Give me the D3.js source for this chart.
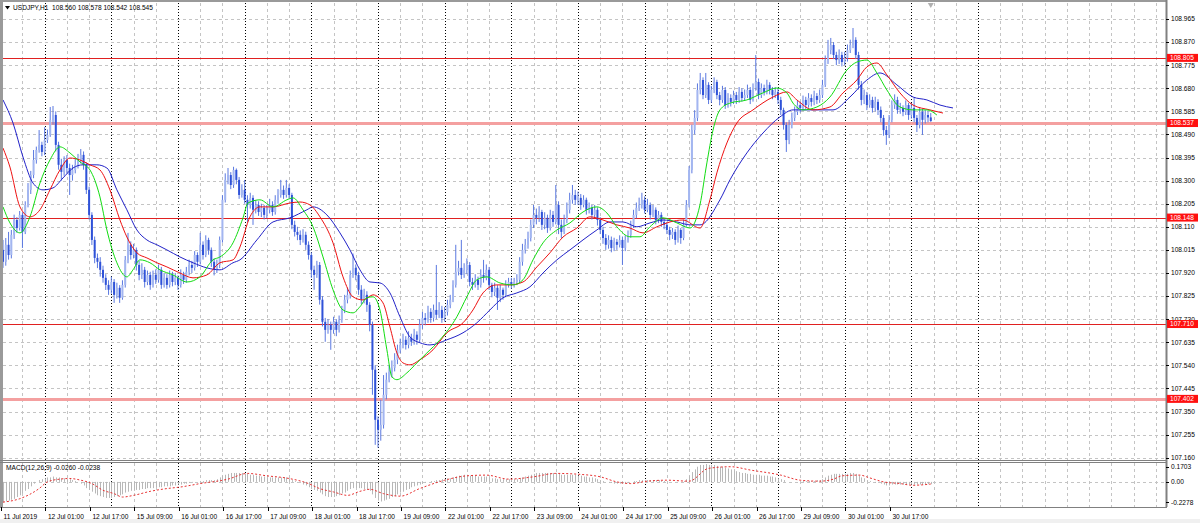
<!DOCTYPE html>
<html><head><meta charset="utf-8">
<script src="https://cdn.jsdelivr.net/npm/d3@7"></script>
<style>body{margin:0;background:#fff;overflow:hidden}text{font-family:"Liberation Sans",Arial,sans-serif;}</style>
</head><body><svg id="c" width="1200" height="523"></svg>
<script>
const chartTitle = "USDJPY,H1  108.560 108.578 108.542 108.545";
const macdTitle = "MACD(12,26,9) -0.0260 -0.0238";
const opens = [108.015,107.966,108.036,107.994,108.077,108.138,108.105,108.159,108.089,108.200,108.262,108.323,108.385,108.426,108.447,108.418,108.467,108.488,108.550,108.570,108.447,108.365,108.336,108.385,108.352,108.323,108.344,108.365,108.385,108.406,108.365,108.262,108.159,108.056,107.982,107.966,107.933,107.900,107.871,107.851,107.883,107.830,107.859,107.818,107.871,107.974,108.036,107.994,108.015,107.953,107.912,107.933,107.883,107.912,107.871,107.912,107.892,107.933,107.871,107.900,107.871,107.912,107.883,107.900,107.871,107.912,107.892,107.925,107.953,107.941,107.994,107.966,108.036,107.994,108.056,108.015,107.966,107.933,107.953,108.056,108.221,108.303,108.323,108.282,108.344,108.303,108.241,108.262,108.221,108.200,108.229,108.180,108.200,108.171,108.188,108.159,108.180,108.200,108.171,108.221,108.241,108.262,108.241,108.270,108.241,108.118,108.089,108.077,108.056,108.077,108.036,107.994,107.933,107.912,107.953,107.810,107.719,107.686,107.707,107.686,107.719,107.686,107.727,107.768,107.810,107.830,107.912,107.941,107.912,107.851,107.810,107.830,107.789,107.707,107.522,107.316,107.275,107.295,107.419,107.481,107.513,107.530,107.563,107.604,107.624,107.645,107.624,107.653,107.637,107.666,107.645,107.707,107.735,107.727,107.760,107.735,107.768,107.748,107.768,107.735,107.760,107.789,107.810,107.871,107.925,107.941,107.912,107.933,107.953,107.883,107.871,107.892,107.871,107.912,107.900,107.933,107.871,107.842,107.859,107.818,107.851,107.830,107.871,107.883,107.871,107.883,107.892,107.966,108.015,108.036,108.064,108.118,108.159,108.147,108.171,108.118,108.147,108.105,108.159,108.130,108.200,108.118,108.089,108.138,108.180,108.221,108.241,108.221,108.229,108.200,108.221,108.180,108.188,108.159,108.180,108.138,108.097,108.064,108.036,108.056,108.023,108.048,108.036,108.056,108.023,108.056,108.077,108.118,108.159,108.188,108.200,108.221,108.180,108.200,108.159,108.180,108.138,108.159,108.130,108.118,108.097,108.077,108.089,108.056,108.097,108.064,108.118,108.200,108.344,108.508,108.558,108.673,108.714,108.652,108.694,108.632,108.673,108.706,108.652,108.632,108.673,108.611,108.640,108.624,108.652,108.632,108.665,108.640,108.652,108.673,108.632,108.681,108.706,108.652,108.681,108.665,108.694,108.673,108.652,108.665,108.632,108.591,108.529,108.467,108.529,108.558,108.583,108.611,108.599,108.632,108.611,108.640,108.624,108.648,108.632,108.652,108.694,108.796,108.837,108.858,108.817,108.796,108.817,108.788,108.805,108.837,108.858,108.879,108.817,108.694,108.632,108.652,108.611,108.632,108.599,108.624,108.591,108.558,108.508,108.488,108.550,108.611,108.632,108.591,108.599,108.583,108.611,108.570,108.599,108.558,108.529,108.583,108.550,108.570,108.560];
const highs = [108.056,108.064,108.089,108.097,108.160,108.150,108.175,108.170,108.215,108.290,108.340,108.426,108.440,108.508,108.460,108.520,108.510,108.603,108.607,108.585,108.460,108.390,108.400,108.405,108.370,108.365,108.390,108.410,108.430,108.420,108.375,108.275,108.170,108.070,108.000,107.985,107.950,107.915,107.890,107.905,107.895,107.880,107.870,107.890,107.990,108.085,108.050,108.040,108.025,107.970,107.960,107.945,107.930,107.925,107.930,107.935,107.955,107.945,107.920,107.915,107.930,107.925,107.920,107.910,107.935,107.925,107.945,107.975,107.970,108.010,108.005,108.085,108.050,108.075,108.065,108.025,107.980,107.975,108.070,108.240,108.330,108.352,108.335,108.357,108.350,108.315,108.285,108.303,108.240,108.250,108.240,108.220,108.215,108.205,108.200,108.200,108.225,108.215,108.240,108.265,108.303,108.280,108.303,108.285,108.250,108.135,108.110,108.095,108.100,108.090,108.050,108.005,107.950,107.970,107.965,107.825,107.735,107.730,107.720,107.740,107.730,107.745,107.785,107.830,107.860,107.930,108.000,107.955,107.925,107.870,107.855,107.845,107.800,107.720,107.540,107.330,107.398,107.500,107.510,107.540,107.560,107.590,107.625,107.650,107.670,107.660,107.680,107.670,107.690,107.680,107.730,107.760,107.755,107.785,107.775,107.790,107.953,107.800,107.785,107.780,107.810,107.830,107.890,108.036,107.970,108.056,107.960,107.980,107.965,107.900,107.915,107.905,107.935,107.974,107.955,107.945,107.880,107.880,107.870,107.870,107.860,107.890,107.900,107.900,107.900,107.915,107.985,108.040,108.060,108.090,108.140,108.200,108.185,108.195,108.180,108.170,108.160,108.180,108.175,108.282,108.215,108.140,108.160,108.210,108.250,108.282,108.262,108.255,108.245,108.240,108.230,108.210,108.200,108.200,108.190,108.150,108.110,108.080,108.075,108.070,108.065,108.060,108.075,108.070,108.075,108.095,108.135,108.180,108.210,108.230,108.250,108.235,108.225,108.210,108.200,108.190,108.175,108.170,108.145,108.130,108.110,108.105,108.100,108.115,108.105,108.140,108.220,108.360,108.530,108.590,108.700,108.743,108.725,108.743,108.705,108.690,108.725,108.715,108.665,108.690,108.685,108.660,108.655,108.670,108.665,108.685,108.680,108.675,108.695,108.685,108.700,108.817,108.720,108.700,108.695,108.715,108.705,108.685,108.685,108.680,108.645,108.600,108.540,108.550,108.580,108.605,108.630,108.625,108.650,108.645,108.660,108.655,108.670,108.660,108.675,108.715,108.815,108.879,108.887,108.870,108.830,108.840,108.830,108.830,108.860,108.880,108.928,108.890,108.830,108.710,108.675,108.665,108.655,108.645,108.645,108.635,108.605,108.570,108.525,108.570,108.630,108.655,108.645,108.620,108.610,108.630,108.620,108.620,108.640,108.570,108.600,108.595,108.590,108.585,108.578];
const lows = [107.941,107.950,107.975,107.980,108.060,108.085,108.095,108.023,108.080,108.190,108.245,108.310,108.370,108.415,108.400,108.405,108.455,108.480,108.530,108.420,108.345,108.300,108.320,108.330,108.241,108.300,108.330,108.350,108.370,108.345,108.245,108.140,108.035,107.960,107.940,107.905,107.880,107.850,107.830,107.835,107.797,107.815,107.797,107.810,107.860,107.960,107.975,107.980,107.930,107.890,107.895,107.860,107.870,107.851,107.860,107.875,107.880,107.855,107.860,107.855,107.860,107.865,107.870,107.850,107.860,107.875,107.880,107.910,107.920,107.930,107.945,107.955,107.975,107.985,107.995,107.945,107.910,107.920,107.940,108.045,108.210,108.285,108.265,108.270,108.285,108.225,108.230,108.205,108.130,108.185,108.118,108.165,108.155,108.150,108.140,108.145,108.165,108.155,108.160,108.205,108.230,108.225,108.230,108.225,108.100,108.070,108.055,108.035,108.045,108.015,107.975,107.900,107.851,107.900,107.790,107.700,107.637,107.670,107.604,107.670,107.660,107.675,107.715,107.755,107.795,107.815,107.900,107.890,107.830,107.790,107.795,107.760,107.680,107.419,107.213,107.201,107.230,107.280,107.400,107.470,107.490,107.515,107.545,107.590,107.610,107.605,107.610,107.620,107.625,107.625,107.635,107.690,107.705,107.715,107.715,107.720,107.730,107.735,107.715,107.720,107.745,107.775,107.800,107.860,107.910,107.895,107.900,107.915,107.865,107.850,107.860,107.850,107.860,107.880,107.890,107.850,107.820,107.825,107.768,107.800,107.810,107.820,107.860,107.855,107.860,107.870,107.880,107.950,108.000,108.020,108.050,108.105,108.120,108.130,108.097,108.100,108.085,108.095,108.110,108.120,108.080,108.064,108.080,108.125,108.165,108.205,108.200,108.200,108.180,108.190,108.160,108.165,108.140,108.150,108.115,108.080,108.040,108.015,108.020,108.005,108.010,108.015,108.025,107.953,108.010,108.045,108.065,108.105,108.145,108.175,108.185,108.165,108.170,108.140,108.150,108.120,108.125,108.110,108.100,108.080,108.055,108.060,108.036,108.045,108.040,108.055,108.110,108.190,108.330,108.490,108.545,108.655,108.635,108.640,108.615,108.620,108.660,108.635,108.610,108.620,108.595,108.600,108.605,108.615,108.615,108.620,108.625,108.630,108.640,108.615,108.625,108.670,108.635,108.640,108.650,108.655,108.655,108.635,108.640,108.615,108.570,108.510,108.418,108.450,108.515,108.545,108.570,108.580,108.590,108.595,108.600,108.605,108.610,108.615,108.620,108.640,108.685,108.780,108.820,108.800,108.775,108.780,108.770,108.775,108.790,108.825,108.845,108.800,108.675,108.610,108.615,108.590,108.600,108.580,108.585,108.570,108.540,108.485,108.447,108.475,108.540,108.595,108.575,108.575,108.565,108.570,108.550,108.555,108.540,108.500,108.515,108.488,108.535,108.540,108.542];
const closes = [107.966,108.036,107.994,108.077,108.138,108.105,108.159,108.089,108.200,108.262,108.323,108.385,108.426,108.447,108.418,108.467,108.488,108.550,108.570,108.447,108.365,108.336,108.385,108.352,108.323,108.344,108.365,108.385,108.406,108.365,108.262,108.159,108.056,107.982,107.966,107.933,107.900,107.871,107.851,107.883,107.830,107.859,107.818,107.871,107.974,108.036,107.994,108.015,107.953,107.912,107.933,107.883,107.912,107.871,107.912,107.892,107.933,107.871,107.900,107.871,107.912,107.883,107.900,107.871,107.912,107.892,107.925,107.953,107.941,107.994,107.966,108.036,107.994,108.056,108.015,107.966,107.933,107.953,108.056,108.221,108.303,108.323,108.282,108.344,108.303,108.241,108.262,108.221,108.200,108.229,108.180,108.200,108.171,108.188,108.159,108.180,108.200,108.171,108.221,108.241,108.262,108.241,108.270,108.241,108.118,108.089,108.077,108.056,108.077,108.036,107.994,107.933,107.912,107.953,107.810,107.719,107.686,107.707,107.686,107.719,107.686,107.727,107.768,107.810,107.830,107.912,107.941,107.912,107.851,107.810,107.830,107.789,107.707,107.522,107.316,107.275,107.295,107.419,107.481,107.513,107.530,107.563,107.604,107.624,107.645,107.624,107.653,107.637,107.666,107.645,107.707,107.735,107.727,107.760,107.735,107.768,107.748,107.768,107.735,107.760,107.789,107.810,107.871,107.925,107.941,107.912,107.933,107.953,107.883,107.871,107.892,107.871,107.912,107.900,107.933,107.871,107.842,107.859,107.818,107.851,107.830,107.871,107.883,107.871,107.883,107.892,107.966,108.015,108.036,108.064,108.118,108.159,108.147,108.171,108.118,108.147,108.105,108.159,108.130,108.200,108.118,108.089,108.138,108.180,108.221,108.241,108.221,108.229,108.200,108.221,108.180,108.188,108.159,108.180,108.138,108.097,108.064,108.036,108.056,108.023,108.048,108.036,108.056,108.023,108.056,108.077,108.118,108.159,108.188,108.200,108.221,108.180,108.200,108.159,108.180,108.138,108.159,108.130,108.118,108.097,108.077,108.089,108.056,108.097,108.064,108.118,108.200,108.344,108.508,108.558,108.673,108.714,108.652,108.694,108.632,108.673,108.706,108.652,108.632,108.673,108.611,108.640,108.624,108.652,108.632,108.665,108.640,108.652,108.673,108.632,108.681,108.706,108.652,108.681,108.665,108.694,108.673,108.652,108.665,108.632,108.591,108.529,108.467,108.529,108.558,108.583,108.611,108.599,108.632,108.611,108.640,108.624,108.648,108.632,108.652,108.694,108.796,108.837,108.858,108.817,108.796,108.817,108.788,108.805,108.837,108.858,108.879,108.817,108.694,108.632,108.652,108.611,108.632,108.599,108.624,108.591,108.558,108.508,108.488,108.550,108.611,108.632,108.591,108.599,108.583,108.611,108.570,108.599,108.558,108.529,108.583,108.550,108.570,108.560,108.545];

// Alligator lines, sampled (bar index, price)
const jawBars = [0,3.6,7.2,10.8,14.4,18,21.6,25.2,28.8,33.8,37.4,41,44.6,48.2,51.8,55.4,59,63.7,68.4,73.4,78.1,82.8,85.3,91.4,97.2,103.3,109.4,111.6,116.6,121.3,124.9,128.5,132.1,135.7,139.3,142.9,146.5,150.1,153.7,159.8,165.6,170.6,175.3,180,185,189.7,194.4,199.4,204.1,208.8,213.8,218.5,223.2,228.2,232.9,237.6,242.6,247.3,250.9,258.1,261.7,267.8,273.6,279.7,284.4,291.6,298.8,304.9,311,315.7,321.8,327.6,332.6,337.3,342];
const jawValues = [108.632,108.537,108.397,108.290,108.262,108.270,108.311,108.352,108.365,108.365,108.352,108.262,108.180,108.097,108.056,108.036,108.015,107.986,107.962,107.941,107.933,107.962,107.974,108.056,108.130,108.147,108.180,108.192,108.159,108.085,108.015,107.933,107.883,107.879,107.838,107.740,107.657,107.633,107.624,107.645,107.674,107.715,107.768,107.818,107.838,107.863,107.920,107.974,108.015,108.056,108.097,108.130,108.130,108.110,108.126,108.138,108.130,108.118,108.118,108.221,108.303,108.414,108.496,108.562,108.591,108.591,108.591,108.644,108.714,108.743,108.694,108.644,108.632,108.611,108.599];
const teethBars = [0,2.5,6.1,9.7,13.3,16.9,20.5,24.1,27.7,31.3,34.9,38.5,42.1,44.6,48.2,51.8,55.4,59,63.7,68.4,73.4,78.1,82.8,85.3,88.9,92.5,97.2,103.3,106.9,110.5,114.1,118.8,122.4,126,129.6,133.2,136.8,139.3,141.8,144,146.5,150.1,154.8,159.8,165.6,169.2,172.8,177.8,182.5,187.2,192.2,196.9,201.6,206.6,211.3,216,221,225.7,230.4,235.4,240.1,244.8,250.9,254.5,257,260.6,264.2,270,277.2,282.2,285.8,291.6,297.7,302.4,307.4,311,314.6,318.2,322.9,327.6,333.7,338.4];
const teethValues = [108.434,108.356,108.192,108.151,108.180,108.262,108.344,108.393,108.385,108.365,108.344,108.262,108.138,108.068,108.003,107.982,107.962,107.945,107.920,107.900,107.912,107.962,107.974,108.027,108.151,108.192,108.192,108.208,108.212,108.200,108.151,108.044,107.904,107.822,107.809,107.830,107.797,107.698,107.591,107.550,107.542,107.563,107.604,107.674,107.715,107.768,107.838,107.871,107.871,107.883,107.945,108.003,108.068,108.105,108.151,108.138,108.118,108.105,108.085,108.110,108.130,108.138,108.105,108.221,108.332,108.455,108.537,108.591,108.644,108.665,108.632,108.591,108.603,108.661,108.714,108.768,108.784,108.735,108.661,108.611,108.591,108.578];
const lipsBars = [0,2.5,6.1,9.7,13.3,16.9,20.5,24.1,27.7,31.3,34.9,37.4,41,44.6,46.8,49.3,52.9,56.5,61.2,66.2,70.9,75.6,78.1,82.8,86.4,88.2,92.5,97.2,102.2,104.4,108,111.6,115.2,118.8,122.4,126,128.5,131,133.2,135.7,138.2,140,141.8,145.4,149,152.6,157.3,163.4,167,170.6,174.2,178.9,183.6,187.2,190.8,194.4,199.4,204.1,208.8,213.8,217.4,221,225.7,229.3,232.9,237.6,242.6,247.3,250.9,253.4,255.6,258.1,261.7,267.8,273.6,278.6,282.2,284.4,288,293,297.7,303.8,307.4,311,314.6,318.2,322.9,327.6,332.6,336.2];
const lipsValues = [108.192,108.126,108.085,108.151,108.290,108.385,108.439,108.414,108.377,108.344,108.233,108.097,107.962,107.904,107.933,107.974,107.962,107.933,107.912,107.883,107.904,107.974,107.986,108.044,108.147,108.208,108.221,108.192,108.221,108.229,108.180,108.110,107.986,107.851,107.768,107.756,107.781,107.818,107.822,107.768,107.604,107.493,107.481,107.509,107.550,107.591,107.645,107.740,107.822,107.892,107.904,107.879,107.871,107.892,107.974,108.044,108.097,108.126,108.171,108.192,108.167,108.110,108.069,108.069,108.110,108.147,108.126,108.105,108.200,108.373,108.508,108.591,108.619,108.632,108.661,108.681,108.661,108.619,108.591,108.603,108.644,108.755,108.788,108.796,108.743,108.673,108.603,108.591,108.591,108.570];

const macdMain = [-0.23,-0.22,-0.21,-0.20,-0.19,-0.17,-0.15,-0.13,-0.10,-0.08,-0.05,-0.02,0.00,0.02,0.03,0.04,0.05,0.05,0.06,0.05,0.05,0.04,0.04,0.03,0.03,0.02,0.01,0.00,-0.02,-0.04,-0.07,-0.09,-0.11,-0.13,-0.15,-0.16,-0.17,-0.18,-0.18,-0.18,-0.17,-0.16,-0.15,-0.14,-0.12,-0.11,-0.10,-0.10,-0.09,-0.09,-0.08,-0.08,-0.07,-0.07,-0.07,-0.06,-0.06,-0.06,-0.05,-0.05,-0.05,-0.04,-0.04,-0.03,-0.03,-0.02,-0.02,-0.01,-0.01,0.00,0.00,0.01,0.01,0.02,0.02,0.02,0.02,0.03,0.05,0.07,0.08,0.09,0.10,0.10,0.10,0.10,0.10,0.09,0.09,0.08,0.08,0.07,0.07,0.06,0.06,0.05,0.05,0.05,0.05,0.05,0.05,0.05,0.05,0.04,0.02,0.01,0.00,-0.01,-0.03,-0.04,-0.06,-0.08,-0.09,-0.10,-0.12,-0.14,-0.16,-0.17,-0.17,-0.17,-0.16,-0.15,-0.13,-0.12,-0.10,-0.08,-0.07,-0.07,-0.07,-0.07,-0.08,-0.09,-0.10,-0.14,-0.18,-0.21,-0.22,-0.21,-0.20,-0.19,-0.17,-0.16,-0.14,-0.12,-0.11,-0.09,-0.08,-0.06,-0.05,-0.04,-0.03,-0.02,-0.01,0.00,0.01,0.01,0.02,0.02,0.03,0.03,0.04,0.04,0.05,0.06,0.07,0.07,0.08,0.08,0.07,0.07,0.07,0.06,0.06,0.06,0.06,0.05,0.04,0.04,0.03,0.03,0.03,0.03,0.03,0.03,0.03,0.03,0.04,0.05,0.06,0.07,0.08,0.09,0.10,0.10,0.10,0.10,0.10,0.10,0.10,0.10,0.09,0.08,0.08,0.08,0.08,0.08,0.08,0.07,0.07,0.06,0.06,0.05,0.05,0.04,0.03,0.02,0.01,0.00,-0.01,-0.01,-0.02,-0.02,-0.02,-0.02,-0.02,-0.01,0.00,0.01,0.01,0.02,0.02,0.02,0.02,0.02,0.02,0.02,0.02,0.01,0.01,0.00,0.00,0.00,0.00,0.00,0.00,0.01,0.03,0.07,0.11,0.14,0.17,0.19,0.19,0.20,0.19,0.19,0.19,0.18,0.17,0.17,0.16,0.15,0.14,0.13,0.12,0.11,0.10,0.10,0.09,0.09,0.08,0.08,0.08,0.07,0.07,0.07,0.06,0.06,0.05,0.04,0.03,0.02,0.00,0.00,0.00,0.00,0.00,0.00,0.01,0.01,0.01,0.01,0.01,0.02,0.02,0.03,0.05,0.07,0.08,0.09,0.09,0.09,0.09,0.09,0.09,0.10,0.10,0.09,0.07,0.05,0.04,0.02,0.01,0.00,-0.01,-0.01,-0.02,-0.03,-0.04,-0.04,-0.03,-0.03,-0.03,-0.03,-0.03,-0.03,-0.03,-0.03,-0.03,-0.03,-0.03,-0.03,-0.03,-0.026,-0.026];
const signalBars = [0,6,13,16,20.5,24,28,32,36,40,43,47,53,59,64,71,81,88,95,103,110,114,119,124,128.5,132,137,143,150,159,167,174,182,191,199,208,215,221,226,232,239,247,254,262,269,280,287,294,299,302,308.5,312,317,323,327.6,334];
const signalValues = [-0.227,-0.189,-0.075,0.0,0.031,0.038,0.019,-0.019,-0.094,-0.132,-0.170,-0.151,-0.106,-0.075,-0.057,-0.019,0.031,0.095,0.068,0.038,-0.019,-0.075,-0.113,-0.151,-0.106,-0.083,-0.132,-0.160,-0.075,0.019,0.068,0.076,0.031,0.057,0.095,0.084,0.057,0.0,-0.019,0.008,0.019,0.008,0.152,0.170,0.133,0.076,0.019,0.008,0.031,0.068,0.076,0.045,0.0,-0.019,-0.038,-0.024];

const priceTicks = ["108.965","108.870","108.775","108.680","108.585","108.490","108.395","108.300","108.205","108.110","108.015","107.920","107.825","107.730","107.635","107.540","107.445","107.350","107.255","107.160"];
const levels = [108.805,108.537,108.148,107.710,107.402];
const levelStyle = ["thin","thick","thin","thin","thick"];
const macdTicks = ["0.1703","0.00","-0.2278"];
const timeLabelBars = [0,16,32,48,64,80,96,112,128,144,160,176,192,208,224,240,256,272,288,304,320];
const timeLabels = ["11 Jul 2019","12 Jul 01:00","12 Jul 17:00","15 Jul 09:00","16 Jul 01:00","16 Jul 17:00","17 Jul 09:00","18 Jul 01:00","18 Jul 17:00","19 Jul 09:00","22 Jul 01:00","22 Jul 17:00","23 Jul 09:00","24 Jul 01:00","24 Jul 17:00","25 Jul 09:00","26 Jul 01:00","26 Jul 17:00","29 Jul 09:00","30 Jul 01:00","30 Jul 17:00"];
const dayStartBars = [15,39,63,87,111,135,159,183,207,231,255,279,303,327,351];

// ---------- layout ----------
const L = 3, R = 1166, mainTop = 3, mainBot = 460, macdTop = 463, macdBot = 507;
const svg = d3.select("#c");
const x = d3.scaleLinear().domain([0, 418.68]).range([L, R]);
const y = d3.scaleLinear().domain([107.160, 108.965]).range([457.7, 19]);
const ym = d3.scaleLinear().domain([-0.2278, 0.1703]).range([502.2, 466.7]);

svg.append("rect").attr("width",1200).attr("height",523).attr("fill","#ffffff");
svg.append("rect").attr("x",0).attr("y",519).attr("width",1200).attr("height",4).attr("fill","#f0f0f0");

const defs = svg.append("defs");
defs.append("clipPath").attr("id","cm").append("rect").attr("x",L).attr("y",mainTop).attr("width",R-L).attr("height",mainBot-mainTop);
defs.append("clipPath").attr("id","cd").append("rect").attr("x",L).attr("y",macdTop).attr("width",R-L).attr("height",macdBot-macdTop);

// grid
const grid = svg.append("g");
const gridBars = d3.range(-1, 419, 8).filter(b => !dayStartBars.includes(b));
[[mainTop,mainBot],[macdTop,macdBot]].forEach(([t,b]) => {
  grid.selectAll(null).data(gridBars).enter().append("line")
    .attr("x1",d=>Math.round(x(d))+0.5).attr("x2",d=>Math.round(x(d))+0.5).attr("y1",t).attr("y2",b)
    .attr("stroke","#c4c4c4").attr("stroke-dasharray","3,3");
  grid.selectAll(null).data(dayStartBars).enter().append("line")
    .attr("x1",d=>Math.round(x(d))+0.5).attr("x2",d=>Math.round(x(d))+0.5).attr("y1",t).attr("y2",b)
    .attr("stroke","#000").attr("stroke-dasharray","1,2");
});
grid.selectAll(null).data(priceTicks).enter().append("line")
  .attr("x1",L).attr("x2",R).attr("y1",d=>Math.round(y(+d))+0.5).attr("y2",d=>Math.round(y(+d))+0.5)
  .attr("stroke","#c4c4c4").attr("stroke-dasharray","3,3");
grid.append("line").attr("x1",L).attr("x2",R).attr("y1",Math.round(ym(0))+0.5).attr("y2",Math.round(ym(0))+0.5)
  .attr("stroke","#c4c4c4").attr("stroke-dasharray","3,3");

// horizontal levels
const gm = svg.append("g").attr("clip-path","url(#cm)");
gm.selectAll(null).data(levels).enter().append("line")
  .attr("x1",L).attr("x2",R).attr("y1",d=>Math.round(y(d))+0.5).attr("y2",d=>Math.round(y(d))+0.5)
  .attr("stroke",(d,i)=>levelStyle[i]==="thick"?"#f4a0a0":"#e02020")
  .attr("stroke-width",(d,i)=>levelStyle[i]==="thick"?3:1);

// candles
const bars = d3.range(closes.length);
gm.selectAll(null).data(bars).enter().append("line")
  .attr("x1",i=>x(i)).attr("x2",i=>x(i)).attr("y1",i=>y(highs[i])).attr("y2",i=>y(lows[i]))
  .attr("stroke","#5a78e0").attr("stroke-width",1);
gm.selectAll(null).data(bars).enter().append("rect")
  .attr("x",i=>x(i)-1).attr("width",2)
  .attr("y",i=>y(Math.max(opens[i],closes[i])))
  .attr("height",i=>Math.max(1, Math.abs(y(opens[i])-y(closes[i]))))
  .attr("fill",i=>closes[i]>=opens[i]?"#a3b6f0":"#2f52d8");

// alligator
const line = (bs, vs) => d3.line().x((d,k)=>x(bs[k])).y(d=>y(d)).curve(d3.curveMonotoneX)(vs);
gm.append("path").attr("d",line(jawBars,jawValues)).attr("fill","none").attr("stroke","#2222c8").attr("stroke-width",1);
gm.append("path").attr("d",line(teethBars,teethValues)).attr("fill","none").attr("stroke","#ee1111").attr("stroke-width",1);
gm.append("path").attr("d",line(lipsBars,lipsValues)).attr("fill","none").attr("stroke","#11dd11").attr("stroke-width",1);

// MACD
const gd = svg.append("g").attr("clip-path","url(#cd)");
gd.selectAll(null).data(d3.range(macdMain.length)).enter().append("line")
  .attr("x1",i=>Math.round(x(i))+0.5).attr("x2",i=>Math.round(x(i))+0.5)
  .attr("y1",ym(0)).attr("y2",i=>ym(macdMain[i]))
  .attr("stroke","#b8b8b8").attr("stroke-width",1);
gd.append("path").attr("d",d3.line().x((d,k)=>x(signalBars[k])).y(d=>ym(d)).curve(d3.curveMonotoneX)(signalValues))
  .attr("fill","none").attr("stroke","#e83030").attr("stroke-width",1).attr("stroke-dasharray","2,2");

// frames
svg.append("line").attr("x1",1.5).attr("x2",1.5).attr("y1",0).attr("y2",macdBot).attr("stroke","#9a9a9a").attr("stroke-width",3);
svg.append("line").attr("x1",0).attr("x2",R).attr("y1",1).attr("y2",1).attr("stroke","#9a9a9a").attr("stroke-width",2);
svg.append("line").attr("x1",R+0.5).attr("x2",R+0.5).attr("y1",0).attr("y2",macdBot).attr("stroke","#808080").attr("stroke-width",2);
svg.append("line").attr("x1",0).attr("x2",R).attr("y1",mainBot+0.5).attr("y2",mainBot+0.5).attr("stroke","#808080");
svg.append("line").attr("x1",0).attr("x2",R).attr("y1",macdTop-0.5).attr("y2",macdTop-0.5).attr("stroke","#808080");
svg.append("line").attr("x1",0).attr("x2",R+1).attr("y1",macdBot+0.5).attr("y2",macdBot+0.5).attr("stroke","#808080");

// shift marker
svg.append("path").attr("d",`M${x(334)-3},3 L${x(334)+3},3 L${x(334)},8 Z`).attr("fill","#b0b0b0");

// price axis
const fs = 6.6;
const ax = svg.append("g");
ax.selectAll(null).data(priceTicks).enter().append("line")
  .attr("x1",R).attr("x2",R+3).attr("y1",d=>Math.round(y(+d))+0.5).attr("y2",d=>Math.round(y(+d))+0.5).attr("stroke","#000");
ax.selectAll(null).data(priceTicks).enter().append("text")
  .attr("x",R+5).attr("y",d=>y(+d)+2.4).attr("font-size",fs).attr("fill","#000").text(d=>d);
// level boxes
const lb = svg.append("g");
levels.forEach((v,i)=>{
  lb.append("rect").attr("x",R+1).attr("y",y(v)-4).attr("width",31).attr("height",8).attr("fill","#ff1010");
  lb.append("text").attr("x",R+4).attr("y",y(v)+2.4).attr("font-size",fs).attr("fill","#ffffff").text(v.toFixed(3));
});
// macd axis
ax.selectAll(null).data(macdTicks).enter().append("text")
  .attr("x",R+5).attr("y",d=>ym(+d)+2.4).attr("font-size",fs).attr("fill","#000").text(d=>d);
ax.selectAll(null).data(macdTicks).enter().append("line")
  .attr("x1",R).attr("x2",R+3).attr("y1",d=>Math.round(ym(+d))+0.5).attr("y2",d=>Math.round(ym(+d))+0.5).attr("stroke","#000");

// time axis
const tx = svg.append("g");
tx.selectAll(null).data(timeLabelBars).enter().append("line")
  .attr("x1",d=>Math.round(x(d))-1.5).attr("x2",d=>Math.round(x(d))-1.5).attr("y1",macdBot).attr("y2",macdBot+4).attr("stroke","#000");
tx.selectAll(null).data(timeLabelBars).enter().append("text")
  .attr("x",d=>x(d)+0.5).attr("y",518.5).attr("font-size",fs).attr("fill","#000").text((d,k)=>timeLabels[k]);

// titles
svg.append("path").attr("d","M5,6 L10,6 L7.5,9.5 Z").attr("fill","#000");
svg.append("text").attr("x",13).attr("y",10).attr("font-size",fs).attr("fill","#000").attr("xml:space","preserve").style("white-space","pre").text(chartTitle);
svg.append("text").attr("x",6).attr("y",470).attr("font-size",fs).attr("fill","#000").text(macdTitle);
</script></body></html>
